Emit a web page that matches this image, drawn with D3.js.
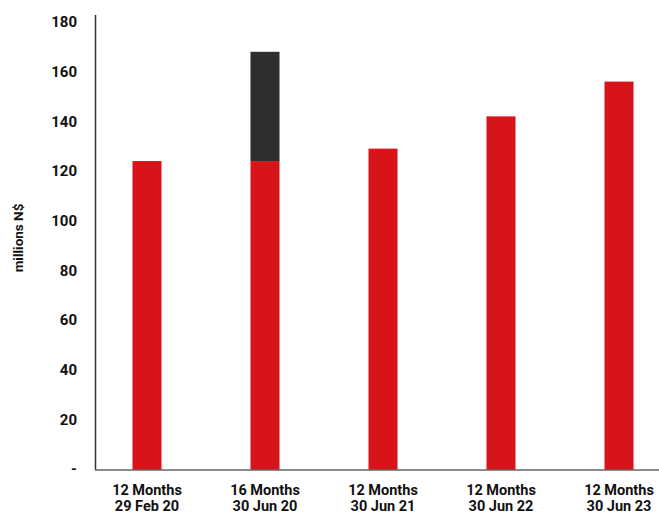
<!DOCTYPE html>
<html>
<head>
<meta charset="utf-8">
<script src="https://cdn.jsdelivr.net/npm/d3@7"></script>
<style>
  body { margin: 0; background: #fff; }
  text { font-family: "Roboto", "Liberation Sans", sans-serif; font-weight: bold; fill: #111; }
</style>
</head>
<body>
<div id="chart"></div>
<script>
"use strict";

// Chart data
const periods = ["12 Months", "16 Months", "12 Months", "12 Months", "12 Months"];
const dates = ["29 Feb 20", "30 Jun 20", "30 Jun 21", "30 Jun 22", "30 Jun 23"];
const baseValues = [124, 124, 129, 142, 156];
const extraValues = [0, 44, 0, 0, 0];
const yTicks = [0, 20, 40, 60, 80, 100, 120, 140, 160, 180];

const w = 659;
const h = 515;
const margin = { top: 15, right: 0, bottom: 45, left: 96 };

const svg = d3.select("#chart").append("svg").attr("width", w).attr("height", h);

const x = d3
  .scaleBand()
  .domain(d3.range(periods.length))
  .range([88, 678])
  .paddingInner(0.754)
  .paddingOuter(0.377);

const y = d3.scaleLinear().domain([0, 180]).range([469, 22]);

const rows = baseValues.map((v, i) => ({ i, base: v, extra: extraValues[i] }));

// bars: red base, dark stacked on top
const bars = svg.append("g");
bars
  .selectAll("rect.base")
  .data(rows)
  .enter()
  .append("rect")
  .attr("class", "base")
  .attr("x", (d) => x(d.i))
  .attr("width", x.bandwidth())
  .attr("y", (d) => y(d.base))
  .attr("height", (d) => y(0) - y(d.base) + 1)
  .attr("fill", "#d7141a");

bars
  .selectAll("rect.extra")
  .data(rows.filter((d) => d.extra > 0))
  .enter()
  .append("rect")
  .attr("class", "extra")
  .attr("x", (d) => x(d.i))
  .attr("width", x.bandwidth())
  .attr("y", (d) => y(d.base + d.extra))
  .attr("height", (d) => y(d.base) - y(d.base + d.extra))
  .attr("fill", "#2e2e2e");

// y axis
const yAxis = svg
  .append("g")
  .attr("transform", `translate(${margin.left},0)`)
  .call(
    d3.axisLeft(y)
      .tickValues(yTicks)
      .tickSize(0)
      .tickPadding(19)
      .tickFormat((d) => (d === 0 ? "-" : d))
  );
yAxis.select(".domain").remove();
yAxis.selectAll("text").attr("font-size", 15).attr("font-family", null).attr("fill", "#111");

svg
  .append("line")
  .attr("x1", margin.left - 0.5)
  .attr("x2", margin.left - 0.5)
  .attr("y1", margin.top)
  .attr("y2", 470)
  .attr("stroke", "#333")
  .attr("stroke-width", 1.5);

// x axis line
svg
  .append("line")
  .attr("x1", margin.left - 1)
  .attr("x2", w)
  .attr("y1", 470)
  .attr("y2", 470)
  .attr("stroke", "#666")
  .attr("stroke-width", 1.5);

// x labels, two lines
const labels = svg
  .append("g")
  .selectAll("text")
  .data(periods)
  .enter()
  .append("text")
  .attr("text-anchor", "middle")
  .attr("font-size", 14.5);

labels
  .append("tspan")
  .attr("x", (d, i) => x(i) + x.bandwidth() / 2)
  .attr("y", 495)
  .text((d) => d);

labels
  .append("tspan")
  .attr("x", (d, i) => x(i) + x.bandwidth() / 2)
  .attr("y", 511)
  .text((d, i) => dates[i]);

// y axis title
svg
  .append("text")
  .attr("transform", "translate(23,238) rotate(-90)")
  .attr("text-anchor", "middle")
  .attr("font-size", 13.5)
  .text("millions N$");
</script>
</body>
</html>
